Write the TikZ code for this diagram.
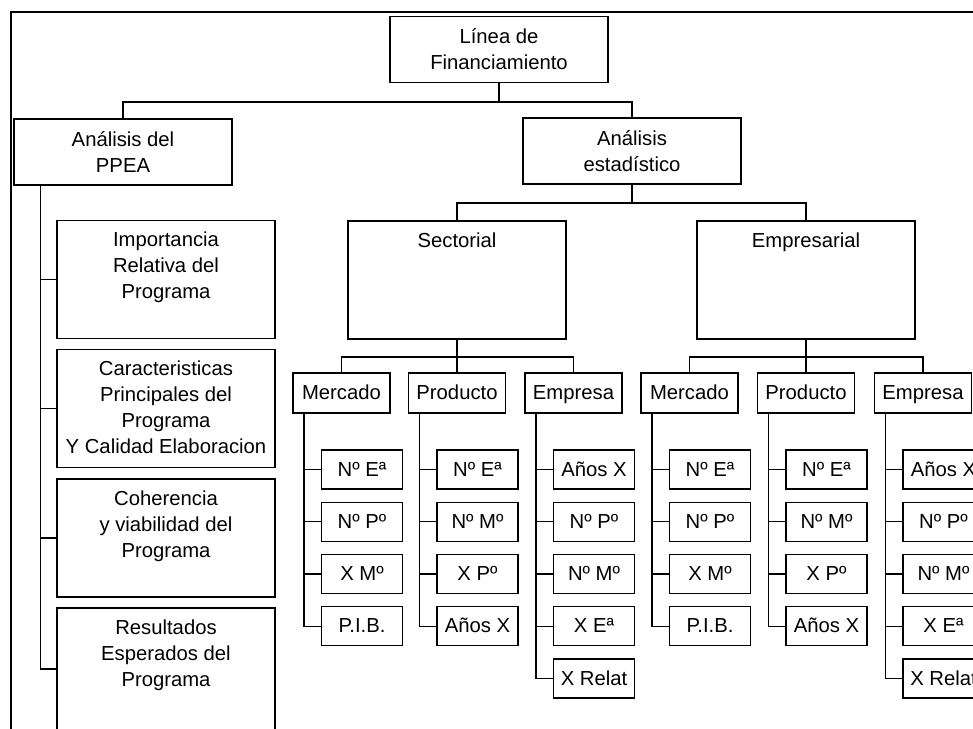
\documentclass[tikz,border=0pt]{standalone}
\usepackage{fontspec}
\setmainfont{Liberation Sans}

\tikzset{
  box/.style={draw, line width=1pt, inner sep=0pt, align=center},
  midbox/.style={box, minimum width=163.5pt, minimum height=49.5pt},
  bigbox/.style={box, minimum width=163.5pt, minimum height=88.5pt},
  catbox/.style={box, minimum width=72.75pt, minimum height=30pt, text height=10.8pt, text depth=1pt},
  itembox/.style={box, minimum width=60.75pt, minimum height=29.25pt, text height=10.8pt, text depth=1pt},
  boxtext/.style={anchor=north, inner sep=0pt, align=center, yshift=-9pt},
  link/.style={line width=1pt},
}

\begin{document}
\begin{tikzpicture}[x=0.75pt, y=-0.75pt, font=\fontsize{15.2}{19.5}\selectfont]
            \useasboundingbox (0,0) rectangle (973,728);
            \clip (0,0) rectangle (973,728);

            % outer frame, cut by the page
            \draw[line width=1.7pt] (11,760) -- (11,12) -- (1000,12);

            \node[midbox] (linea) at (499,49.5) {Línea de\\Financiamiento};
            \node[midbox] (ppea) at (123,152) {Análisis del\\PPEA};
            \node[midbox] (estad) at (632,151) {Análisis\\estadístico};

            \coordinate (bar1) at (499,102);
            \draw[link] (linea.south) -- (bar1);
            \draw[link] (ppea.north) |- (bar1) -| (estad.north);

            % PPEA column
            \node[bigbox] (imp) at (166,279.5) {};
            \node[boxtext] (impT) at (imp.north) {Importancia\\Relativa del\\Programa};
            \node[bigbox] (car) at (166,408.5) {};
            \node[boxtext] (carT) at (car.north) {Caracteristicas\\Principales del\\Programa\\Y Calidad Elaboracion};
            \node[bigbox] (coh) at (166,538) {};
            \node[boxtext] (cohT) at (coh.north) {Coherencia\\y viabilidad del\\Programa};
            \node[bigbox, minimum height=91.5pt] (res) at (166,669) {};
            \node[boxtext] (resT) at (res.north) {Resultados\\Esperados del\\Programa};

            \coordinate (ppeaS) at ([xshift=20.25pt]ppea.south west);
            \draw[link] (ppeaS) |- (res.west);
            \foreach \n in {imp,car,coh}
                \draw[link] (\n.west) -- (\n.west -| ppeaS);

            % statistics
            \node[bigbox] (sect) at (457,280) {};
            \node[boxtext] (sectT) at (sect.north) {Sectorial};
            \node[bigbox] (empr) at (806,280) {};
            \node[boxtext] (emprT) at (empr.north) {Empresarial};

            \coordinate (bar2) at (632,203);
            \draw[link] (estad.south) -- (bar2);
            \draw[link] (sect.north) |- (bar2) -| (empr.north);

            \foreach \c/\x/\t/\items in {
                mercS/341.5/Mercado/{Nº Eª,Nº Pº,X Mº,P.I.B.},
                prodS/457/Producto/{Nº Eª,Nº Mº,X Pº,Años X},
                empS/573.5/Empresa/{Años X,Nº Pº,Nº Mº,X Eª,X Relat},
                mercE/689.5/Mercado/{Nº Eª,Nº Pº,X Mº,P.I.B.},
                prodE/806/Producto/{Nº Eª,Nº Mº,X Pº,Años X},
                empE/923/Empresa/{Años X,Nº Pº,Nº Mº,X Eª,X Relat}}
            {
                \node[catbox] (\c) at (\x,393) {\t};
                \coordinate (\c-s) at ([xshift=8.625pt]\c.south west);
                \foreach \s [count=\i] in \items {
                    \node[itembox] (\c-\i) at ({\x+20.5},{469.5+52.25*(\i-1)}) {\s};
                    \draw[link] (\c-s) |- (\c-\i.west);
                }
            }

            \coordinate (bar3) at (457,357);
            \draw[link] (sect.south) -- (prodS.north);
            \draw[link] (mercS.north) |- (bar3) -| (empS.north);
            \coordinate (bar4) at (806,357);
            \draw[link] (empr.south) -- (prodE.north);
            \draw[link] (mercE.north) |- (bar4) -| (empE.north);
\end{tikzpicture}
\end{document}
